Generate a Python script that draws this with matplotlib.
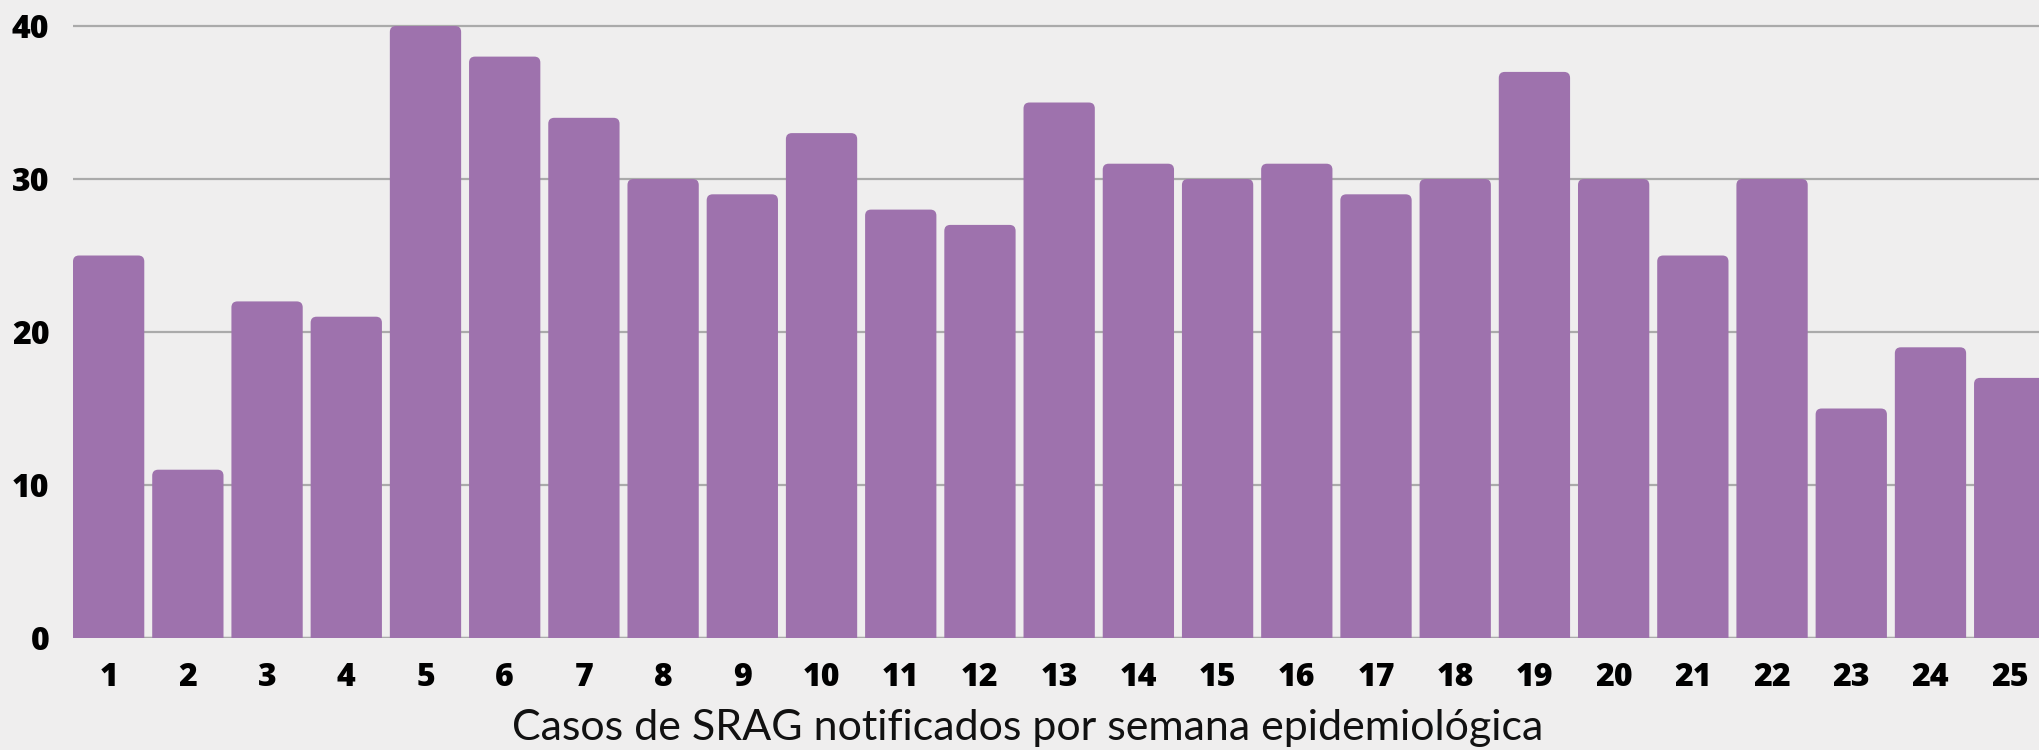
import matplotlib
matplotlib.use("Agg")
import matplotlib.pyplot as plt
from matplotlib.patches import FancyBboxPatch

weeks = list(range(1, 26))
cases = [25, 11, 22, 21, 40, 38, 34, 30, 29, 33, 28, 27, 35,
         31, 30, 31, 29, 30, 37, 30, 25, 30, 15, 19, 17]
y_ticks = [0, 10, 20, 30, 40]
title = "Casos de SRAG notificados por semana epidemiológica"

bg = "#efeeee"
bar_color = "#9e72ad"

fig = plt.figure(figsize=(20.39, 7.5), dpi=100, facecolor=bg)
ax = fig.add_axes([73 / 2039, 112 / 750, 1966 / 2039, 638 / 750])
ax.set_facecolor(bg)

ax.set_xlim(0.55, 25.37)
ax.set_ylim(0, 41.7)

bars = ax.bar(weeks, cases, width=0.9, color=bar_color, zorder=3)
# swap the plain rectangles for ones with slightly rounded tops
px_x = 1966 / (25.37 - 0.55)
px_y = 638 / 41.7
for r in bars:
    r.set_visible(False)
    p = FancyBboxPatch((r.get_x(), -2), r.get_width(), r.get_height() + 2,
                       boxstyle="round,pad=0,rounding_size=%f" % (6 / px_x),
                       mutation_aspect=px_x / px_y,
                       facecolor=bar_color, edgecolor="none", zorder=3)
    ax.add_patch(p)

ax.set_yticks(y_ticks)
ax.set_xticks(weeks)
ax.grid(axis="y", color="#aaaaaa", linewidth=1.6, zorder=0)
ax.axhline(0, color="#888888", linewidth=1.6, zorder=1)
for s in ax.spines.values():
    s.set_visible(False)
ax.tick_params(axis="both", length=0, labelsize=23)
ax.tick_params(axis="y", pad=17)
ax.tick_params(axis="x", pad=17)
for lab in ax.get_xticklabels() + ax.get_yticklabels():
    lab.set_fontfamily(["Open Sans", "DejaVu Sans"])
    lab.set_fontweight("heavy")

fig.text(0.504, 1 - 728 / 750, title, ha="center", va="center",
         fontsize=31, family=["Lato", "DejaVu Sans"], fontweight="normal",
         color="#111111")

fig.savefig("out.png", dpi=100, facecolor=bg)
